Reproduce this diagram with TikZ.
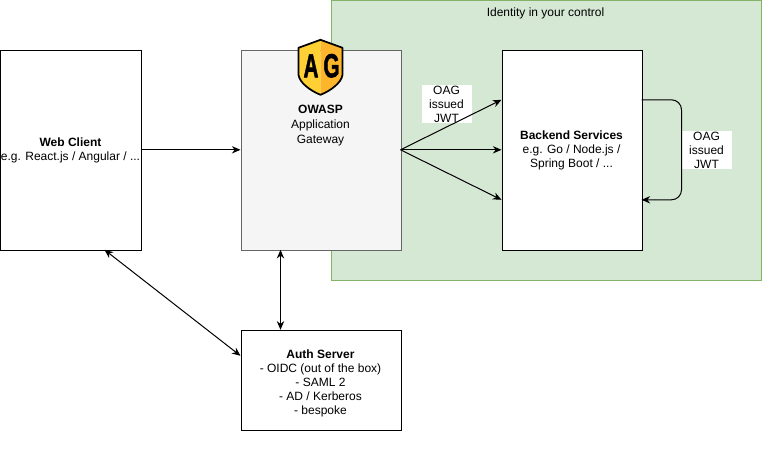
\documentclass[tikz,border=0pt]{standalone}
\usepackage{fontspec}
\setmainfont{Liberation Sans}
\usetikzlibrary{arrows.meta,calc}
\definecolor{zonefill}{HTML}{D5E8D4}
\definecolor{zoneline}{HTML}{82B366}
\definecolor{gwfill}{HTML}{F5F5F5}
\definecolor{gwline}{HTML}{666666}
\definecolor{shieldL}{HTML}{FFD033}
\definecolor{shieldR}{HTML}{FDB52B}
\newfontfamily\shieldfont[FakeBold=2]{Liberation Sans Bold}
\tikzset{
  pxbox/.style={draw=black,fill=white,line width=0.75pt,minimum width=#1,inner sep=0pt},
  conn/.style={line width=0.75pt,-{Stealth[length=6.5pt,width=5.5pt]}},
  conntwo/.style={line width=0.75pt,{Stealth[length=6.5pt,width=5.5pt]}-{Stealth[length=6.5pt,width=5.5pt]}},
  jwt/.style={fill=white,inner sep=0pt,minimum width=37.5pt,minimum height=28.5pt,align=center,font=\fontsize{9}{10.5}\selectfont},
  plain/.style={inner sep=0pt,align=center,font=\fontsize{9}{10.5}\selectfont},
  letter/.style={inner sep=0pt,font=\fontsize{25}{25}\shieldfont,xscale=0.62,text=black}
}
\begin{document}
\begin{tikzpicture}[x=0.75pt,y=-0.75pt]
\useasboundingbox (0.5,1.2) rectangle (763.5,452.2);
\path[fill=white] (0.5,1.2) rectangle (763.5,452.2);
% zone
\node[draw=zoneline,fill=zonefill,line width=0.75pt,minimum width=322.5pt,minimum height=210pt,inner sep=0pt,anchor=north west] (zone) at (331,1) {};
\node[plain] (zonelabel) at (546,15) {Identity in your control};
% boxes
\node[pxbox=105pt,minimum height=150pt,anchor=north west] (web) at (1,51) {};
\node[plain] (webtext) at (71,151.5) {\textbf{Web Client}\\e.g. React.js / Angular / ...};
\node[pxbox=120pt,draw=gwline,fill=gwfill,minimum height=150pt,anchor=north west] (gw) at (241,51) {};
\node[plain,font=\fontsize{9}{11.2}\selectfont] (gwtext) at (321,126.5) {\textbf{OWASP}\\Application\\Gateway};
\node[pxbox=105pt,minimum height=150pt,anchor=north west] (back) at (502,51) {};
\node[plain] (backtext) at (572,152) {\textbf{Backend Services}\\e.g. Go / Node.js /\\Spring Boot / ...};
\node[pxbox=120pt,minimum height=75pt,anchor=north west] (auth) at (241,331) {};
\node[plain] (authtext) at (321,385) {\textbf{Auth Server}\\- OIDC (out of the box)\\- SAML 2\\- AD / Kerberos\\- bespoke};
% shield
\fill[shieldL] (321,41) -- (299,49) -- (299,76) .. controls (300,84) and (311,92) .. (321,96) -- cycle;
\fill[shieldR] (321,41) -- (343,49) -- (343,76) .. controls (342,84) and (331,92) .. (321,96) -- cycle;
\draw[line width=1.3pt,line join=round] (321,41) -- (343,49) -- (343,76) .. controls (342,84) and (331,92) .. (321,96) .. controls (311,92) and (300,84) .. (299,76) -- (299,49) -- cycle;
\node[letter] (shieldA) at (311.5,67) {A};
\node[letter] (shieldG) at (332,67) {G};
% labels
\node[jwt] (jwtA) at (447,105.5) {OAG\\issued\\JWT};
\node[jwt] (jwtB) at (707,151.5) {OAG\\issued\\JWT};
% connectors
\coordinate (gwout) at (401,151);
\draw[conn] (web.east |- gwout) -- (gw.west |- gwout);
\draw[conn] (gwout) -- (back.west |- 0,101);
\draw[conn] (gwout) -- (back.west |- gwout);
\draw[conn] (gwout) -- (back.west |- 0,201);
\coordinate (loopa) at (642,101);
\coordinate (loopb) at (642,201);
\draw[conn,rounded corners=7.5pt] (loopa) -- (682,101) -- (682,201) -- (loopb);
\coordinate (gwbottom) at (281,251);
\coordinate (authtop) at (281,331);
\draw[conntwo] (gwbottom) -- (authtop);
\coordinate (webbottom) at (105,251);
\coordinate (authleft) at (241,357);
\draw[conntwo] (webbottom) -- (authleft);
\end{tikzpicture}
\end{document}
